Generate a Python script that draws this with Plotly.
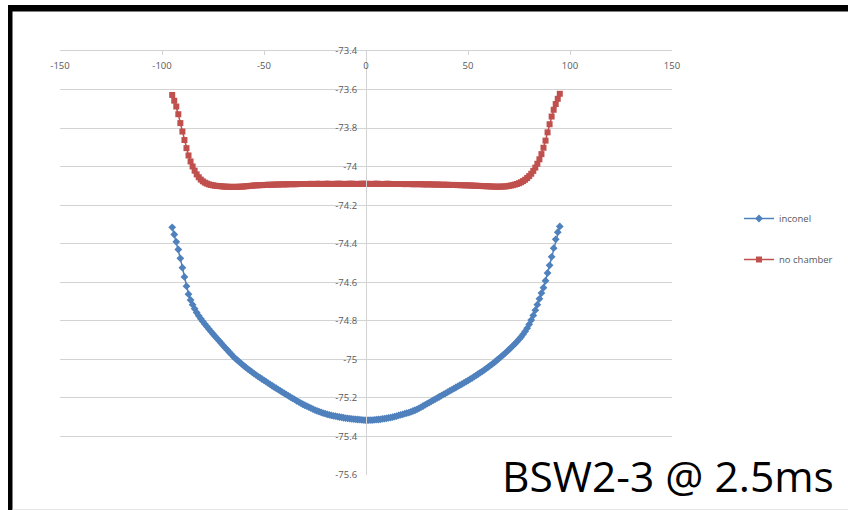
import plotly.graph_objects as go

# ---------------- data ----------------
x_pos = list(range(-95, 96))

inconel = [
    -74.315, -74.352, -74.390, -74.430, -74.476, -74.524, -74.572, -74.620, -74.662, -74.692,
    -74.716, -74.738, -74.757, -74.774, -74.789, -74.803, -74.817, -74.830, -74.843, -74.856,
    -74.868, -74.880, -74.892, -74.904, -74.916, -74.928, -74.940, -74.951, -74.963, -74.974,
    -74.986, -74.996, -75.005, -75.014, -75.023, -75.032, -75.041, -75.049, -75.057, -75.065,
    -75.073, -75.080, -75.088, -75.095, -75.102, -75.109, -75.116, -75.123, -75.130, -75.137,
    -75.144, -75.150, -75.157, -75.163, -75.170, -75.176, -75.183, -75.189, -75.196, -75.202,
    -75.208, -75.215, -75.221, -75.227, -75.233, -75.238, -75.243, -75.248, -75.253, -75.258,
    -75.263, -75.267, -75.271, -75.275, -75.279, -75.282, -75.285, -75.288, -75.291, -75.293,
    -75.295, -75.297, -75.299, -75.301, -75.303, -75.305, -75.306, -75.307, -75.309, -75.310,
    -75.311, -75.312, -75.313, -75.314, -75.315, -75.316, -75.316, -75.315, -75.315, -75.314,
    -75.313, -75.312, -75.311, -75.309, -75.308, -75.306, -75.304, -75.302, -75.300, -75.297,
    -75.294, -75.291, -75.288, -75.285, -75.282, -75.279, -75.276, -75.272, -75.268, -75.264,
    -75.259, -75.254, -75.248, -75.242, -75.236, -75.230, -75.224, -75.218, -75.212, -75.206,
    -75.200, -75.194, -75.188, -75.182, -75.176, -75.170, -75.164, -75.158, -75.152, -75.146,
    -75.140, -75.134, -75.128, -75.122, -75.116, -75.110, -75.103, -75.097, -75.090, -75.083,
    -75.076, -75.069, -75.062, -75.055, -75.047, -75.039, -75.031, -75.023, -75.015, -75.006,
    -74.997, -74.988, -74.979, -74.970, -74.960, -74.950, -74.940, -74.930, -74.919, -74.908,
    -74.896, -74.884, -74.870, -74.855, -74.838, -74.818, -74.796, -74.772, -74.745, -74.716,
    -74.686, -74.656, -74.628, -74.592, -74.552, -74.512, -74.468, -74.423, -74.377, -74.340,
    -74.310,
]

no_chamber = [
    -73.628, -73.658, -73.688, -73.728, -73.774, -73.818, -73.862, -73.904, -73.942, -73.973,
    -73.999, -74.021, -74.040, -74.055, -74.067, -74.076, -74.083, -74.088, -74.092, -74.095,
    -74.097, -74.099, -74.100, -74.101, -74.102, -74.103, -74.104, -74.104, -74.105, -74.105,
    -74.105, -74.105, -74.105, -74.104, -74.104, -74.103, -74.102, -74.101, -74.100, -74.099,
    -74.098, -74.097, -74.097, -74.096, -74.096, -74.095, -74.095, -74.094, -74.094, -74.094,
    -74.093, -74.093, -74.093, -74.092, -74.092, -74.092, -74.092, -74.091, -74.091, -74.091,
    -74.091, -74.091, -74.090, -74.090, -74.090, -74.090, -74.090, -74.090, -74.089, -74.090,
    -74.090, -74.089, -74.089, -74.090, -74.090, -74.089, -74.089, -74.089, -74.090, -74.090,
    -74.089, -74.089, -74.089, -74.089, -74.090, -74.090, -74.089, -74.089, -74.089, -74.089,
    -74.090, -74.090, -74.089, -74.089, -74.089, -74.089, -74.089, -74.090, -74.090, -74.089,
    -74.089, -74.089, -74.090, -74.090, -74.090, -74.089, -74.089, -74.090, -74.090, -74.090,
    -74.090, -74.090, -74.090, -74.090, -74.091, -74.090, -74.090, -74.091, -74.091, -74.091,
    -74.091, -74.091, -74.091, -74.092, -74.092, -74.092, -74.092, -74.092, -74.093, -74.093,
    -74.093, -74.093, -74.094, -74.094, -74.094, -74.094, -74.095, -74.095, -74.095, -74.095,
    -74.096, -74.096, -74.096, -74.097, -74.097, -74.097, -74.098, -74.098, -74.099, -74.099,
    -74.100, -74.100, -74.101, -74.101, -74.102, -74.102, -74.103, -74.103, -74.104, -74.104,
    -74.104, -74.104, -74.103, -74.103, -74.102, -74.100, -74.098, -74.096, -74.093, -74.090,
    -74.086, -74.081, -74.075, -74.068, -74.059, -74.049, -74.037, -74.022, -74.005, -73.985,
    -73.962, -73.935, -73.902, -73.865, -73.822, -73.780, -73.740, -73.705, -73.675, -73.648,
    -73.622,
]

x_tick_vals = [-150, -100, -50, 0, 50, 100, 150]
x_tick_text = ["-150", "-100", "-50", "0", "50", "100", "150"]
y_tick_vals = [-73.4, -73.6, -73.8, -74.0, -74.2, -74.4, -74.6, -74.8, -75.0, -75.2, -75.4, -75.6]
y_tick_text = ["-73.4", "-73.6", "-73.8", "-74", "-74.2", "-74.4", "-74.6", "-74.8",
               "-75", "-75.2", "-75.4", "-75.6"]

series_names = ["inconel", "no chamber"]
caption = "BSW2-3 @ 2.5ms"

# ---------------- layout helpers ----------------
W, H = 848, 510
ML, MR, MT, MB = 60, 176, 51, 35
PW, PH = W - ML - MR, H - MT - MB


def px_x(p):
    return (p - ML) / PW


def px_y(p):
    return (H - MB - p) / PH


GRID = "#d3d3d3"
TXT = "#595959"
TICKFONT = dict(family="Open Sans, Arial, sans-serif", size=9.5, color=TXT)
BLUE = "#4F81BD"
RED = "#C0504D"

fig = go.Figure()
fig.add_trace(go.Scatter(
    x=x_pos, y=inconel, name=series_names[0], mode="lines+markers",
    line=dict(color=BLUE, width=1.5),
    marker=dict(symbol="diamond", size=6, color=BLUE, line=dict(width=0)),
    legendgroup="a",
))
fig.add_trace(go.Scatter(
    x=x_pos, y=no_chamber, name=series_names[1], mode="lines+markers",
    line=dict(color=RED, width=1.5),
    marker=dict(symbol="square", size=6, color=RED, line=dict(width=0)),
    legendgroup="b",
))

fig.update_layout(
    width=W, height=H,
    margin=dict(l=ML, r=MR, t=MT, b=MB, pad=0, autoexpand=False),
    paper_bgcolor="white", plot_bgcolor="white",
    showlegend=True,
    legend=dict(
        x=px_x(739), y=px_y(204), xanchor="left", yanchor="top",
        font=dict(family="Open Sans, Arial, sans-serif", size=9.5, color=TXT),
        tracegroupgap=22, bgcolor="rgba(0,0,0,0)",
    ),
    xaxis=dict(
        range=[-150, 150], side="top", tickvals=x_tick_vals,
        showticklabels=False, showgrid=False, zeroline=False,
        showline=True, linecolor=GRID, linewidth=1,
        ticks="inside", ticklen=4, tickcolor=GRID, tickwidth=1,
    ),
    xaxis2=dict(
        range=[-150, 150], overlaying="x", anchor="free", position=px_y(58),
        side="bottom", tickvals=x_tick_vals, ticktext=x_tick_text,
        showgrid=False, zeroline=False, showline=False, ticks="",
        tickfont=TICKFONT,
    ),
    yaxis=dict(
        range=[-75.6, -73.4], tickvals=y_tick_vals, ticktext=y_tick_text,
        showgrid=True, gridcolor=GRID, gridwidth=1, zeroline=False,
        anchor="free", position=0.5, side="left",
        showline=True, linecolor=GRID, linewidth=1,
        ticks="", ticklabelstandoff=7, tickfont=TICKFONT,
    ),
    shapes=[
        dict(type="rect", xref="paper", yref="paper",
             x0=px_x(8), x1=px_x(12.5), y0=px_y(511), y1=px_y(5),
             fillcolor="black", line=dict(width=0), layer="above"),
        dict(type="rect", xref="paper", yref="paper",
             x0=px_x(8), x1=px_x(849), y0=px_y(11.5), y1=px_y(5),
             fillcolor="black", line=dict(width=0), layer="above"),
        dict(type="line", xref="paper", yref="paper",
             x0=px_x(12.5), x1=px_x(849), y0=px_y(509.5), y1=px_y(509.5),
             line=dict(color="#e6e6e6", width=1), layer="above"),
    ],
    annotations=[
        dict(text=caption, xref="paper", yref="paper",
             x=px_x(836), y=px_y(475), xanchor="right", yanchor="middle",
             showarrow=False,
             font=dict(family="Open Sans, Arial, sans-serif", size=42.5, color="black")),
    ],
)

# dummy trace so xaxis2 is rendered
fig.add_trace(go.Scatter(x=[None], y=[None], xaxis="x2", showlegend=False,
                         hoverinfo="skip"))

fig.write_html("out.html")
